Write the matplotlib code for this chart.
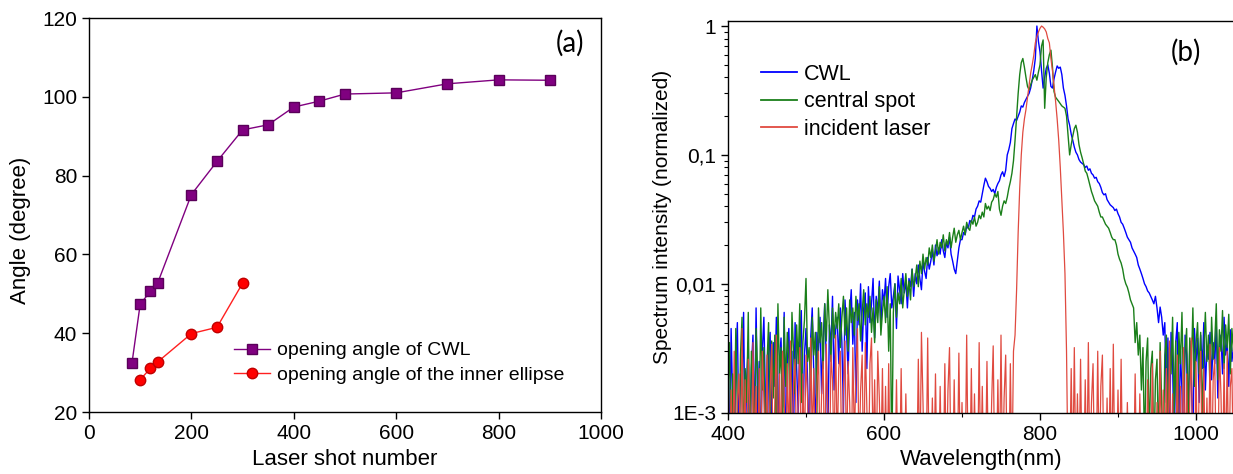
import numpy as np
import matplotlib
matplotlib.use('Agg')
import matplotlib.pyplot as plt
from matplotlib.ticker import FixedLocator, FixedFormatter, LogLocator, NullFormatter, MultipleLocator

plt.rcParams['font.family'] = ['Liberation Sans', 'DejaVu Sans']

# panel (a): opening angle vs number of laser shots
shots_cwl = [84, 100, 120, 134, 200, 250, 300, 350, 400, 450, 500, 600, 700, 800, 900]
angle_cwl = [32.5, 47.4, 50.6, 52.7, 75.2, 83.6, 91.6, 92.9, 97.4, 98.9, 100.7, 101.0, 103.3, 104.3, 104.2]
shots_inner = [100, 120, 134, 200, 250, 300]
angle_inner = [28.2, 31.1, 32.7, 39.9, 41.5, 52.7]

# panel (b): spectra sampled every 2 nm from 400 nm, intensity in units of 1E-3
wl_start = 400
wl_step = 2
cwl = [
    3, 0.4, 4.5, 1.2, 0.3, 2.5, 5, 0.6, 2, 1.5,            # 400
    6, 0.5, 1.8, 3.5, 0.3, 2.2, 4, 0.7, 6.5, 1,            # 420
    2.5, 0.4, 3, 5.5, 1.3, 0.3, 2.8, 4.2, 0.6, 3.5,        # 440
    1.6, 5.5, 0.5, 2.6, 3.8, 1.1, 6, 0.4, 2.4, 4.5,        # 460
    1.5, 3, 0.6, 5, 2.2, 1, 3.6, 6.2, 0.8, 2.8,            # 480
    4.5, 1.8, 0.5, 3.8, 6.5, 2, 0.7, 4.2, 3, 5.5,          # 500
    1.4, 3.6, 7, 2.5, 0.6, 4.8, 3.2, 8, 1.5, 4.4,          # 520
    5.5, 2.4, 6.5, 3.5, 1, 7.5, 4.2, 2, 5.8, 9,            # 540
    3.4, 6, 1.2, 7.5, 4.8, 10, 3, 6.5, 8.5, 2.2,           # 560
    9.5, 5, 7, 11, 3.8, 8, 6, 10.5, 4.5, 9,                # 580
    7, 11, 5.5, 9.5, 12, 6.5, 8, 10, 4.5, 11.5,            # 600
    9, 7, 12, 8.5, 10.5, 6.5, 11, 9.5, 13, 8,              # 620
    12, 10, 14, 11, 9, 15, 12.5, 11, 16, 13,               # 640
    15, 18, 14, 20, 16.5, 19, 17, 22, 18, 16,              # 660
    21, 19, 23, 17, 15, 13, 12, 15, 19, 22,                # 680
    22, 25, 24, 28, 27, 31, 30, 34, 33, 38,                # 700
    40, 44, 43, 50, 58, 66, 62, 57, 55, 52,                # 720
    54, 50, 56, 60, 63, 70, 74, 68, 76, 100,               # 740
    110, 125, 160, 175, 190, 185, 200, 215, 240, 235,      # 760
    255, 270, 285, 300, 330, 380, 450, 560, 1000, 760,     # 780
    630, 450, 330, 400, 470, 500, 430, 340, 330, 390,      # 800
    440, 490, 470, 480, 420, 330, 290, 240, 190, 170,      # 820
    145, 130, 115, 105, 100, 92, 88, 86, 84, 80,           # 840
    82, 76, 78, 72, 70, 66, 67, 62, 60, 56,                # 860
    51, 49, 50, 45, 43, 41, 40, 39, 37, 38,                # 880
    35, 33, 30, 29, 27, 25, 23, 22, 21, 19,                # 900
    18, 17, 16, 14, 13, 12, 11, 10, 9.5, 8.8,              # 920
    8.5, 8, 7.5, 7, 8, 6.5, 5, 6.6, 5.5, 4,                # 940
    5, 1.2, 3.8, 0.5, 4.2, 2.5, 0.4, 3.5, 5, 0.6,          # 960
    3, 1.5, 0.4, 4, 2.8, 0.5, 3.6, 1.8, 0.6, 4.5,          # 980
    2.5, 3.8, 1.2, 4, 2.2, 5, 1.5, 3.2, 2.6, 4.2,          # 1000
    1.8, 3.5, 2.4, 4.8, 1.3, 3, 4, 2, 5.5, 2.8,            # 1020
    3.6, 1.6, 4.4, 2.5, 3.2, 4,                            # 1040
]
spot = [
    1.5, 3.5, 0.4, 2, 0.6, 4.5, 1, 0.3, 2.8, 5.5,          # 400
    0.5, 2.2, 1.2, 6, 0.4, 3, 1.8, 0.5, 4.5, 2,            # 420
    0.7, 6.5, 1.5, 3.2, 0.4, 2.4, 5, 0.8, 3.6, 1.3,        # 440
    4, 0.5, 7, 2, 3.2, 0.6, 5.5, 1.6, 4.2, 2.6,            # 460
    0.8, 6, 3, 1.4, 4.8, 2.4, 7, 1.2, 3.5, 5.2,            # 480
    11, 2.5, 3.2, 1.5, 5.5, 2.8, 4.2, 1, 6.5, 3.5,         # 500
    5, 2.2, 7, 3.6, 9, 4.5, 2.5, 6.5, 3.8, 6,              # 520
    4.5, 7, 3.2, 5.5, 8, 4, 6.5, 3, 7.5, 5,                # 540
    6.5, 4, 8, 5.2, 7, 3.6, 6, 9, 4.8, 7,                  # 560
    5.5, 8, 4.2, 6.5, 3.5, 7.5, 5, 9.5, 4, 6,              # 580
    8, 5, 9.5, 3, 7, 0.4, 6, 10, 5.5, 8.5,                 # 600
    7, 11, 6.5, 9, 12, 8, 10.5, 7.5, 13, 9.5,              # 620
    11, 14, 9.5, 15, 12, 17, 13, 16, 14, 19,               # 640
    16, 20, 15, 18, 22, 17, 21, 19, 24, 18,                # 660
    22, 20, 25, 19, 23, 27, 21, 24, 26, 22,                # 680
    25, 28, 24, 30, 27, 26, 31, 29, 33, 28,                # 700
    30, 34, 32, 36, 33, 42, 38, 40, 37, 43,                # 720
    45, 50, 47, 52, 38, 34, 40, 44, 42, 47,                # 740
    55, 62, 72, 90, 130, 200, 300, 420, 520, 560,          # 760
    480, 400, 340, 320, 350, 380, 400, 420, 380, 440,      # 780
    500, 700, 780, 230, 400, 520, 600, 650, 480, 310,      # 800
    280, 270, 260, 250, 240, 235, 230, 200, 140, 100,      # 820
    120, 140, 160, 170, 150, 120, 105, 95, 85, 75,         # 840
    72, 65, 58, 52, 48, 44, 42, 40, 36, 33,                # 860
    33, 31, 29, 28, 27, 25, 23, 22, 22, 20,                # 880
    17, 15.5, 14.5, 13, 11, 10, 9.4, 8.5, 7.5, 7,          # 900
    6.5, 3.5, 5, 2.8, 4, 1.5, 3.2, 0.5, 2.5, 3.8,          # 920
    0.6, 2.2, 3, 0.4, 1.8, 2.6, 0.5, 3.5, 1.2, 0.4,        # 940
    2.8, 4, 0.7, 3.2, 2, 5.5, 1, 3.6, 0.5, 4.2,            # 960
    2.4, 6, 1.4, 3, 4.5, 0.8, 3.8, 2.2, 6.5, 1.6,          # 980
    3.4, 5, 2, 4.2, 0.9, 3, 6, 2.5, 4, 1.5,                # 1000
    5.5, 2.6, 3.5, 7, 1.8, 4.4, 3, 6.2, 2.2, 4.8,          # 1020
    3.2, 5.8, 2, 4.5, 3, 5,                                # 1040
]
laser = [
    2.5, 0.3, 1.5, 0.4, 3, 0.3, 1.2, 2, 0.3, 4.5,          # 400
    0.4, 1.8, 0.3, 2.6, 1.1, 0.3, 3.5, 0.5, 1.6, 0.3,      # 420
    2.2, 0.3, 3, 1.3, 0.4, 2.8, 0.3, 1.5, 3.4, 0.3,        # 440
    1.2, 4, 0.3, 2, 0.5, 3, 1.4, 0.3, 2.4, 0.6,            # 460
    3.6, 0.3, 1.7, 2.6, 0.4, 1.2, 3.2, 0.3, 2, 0.5,        # 480
    2.8, 1.3, 0.3, 3.8, 0.6, 2.2, 0.3, 1.6, 3, 0.4,        # 500
    1.4, 2.5, 0.3, 3.4, 1, 0.3, 2.8, 1.8, 0.4, 4,          # 520
    0.5, 2.2, 3, 0.3, 1.6, 3.6, 0.4, 2.5, 1.2, 0.3,        # 540
    3.2, 0.6, 2, 4.5, 0.4, 1.5, 2.8, 0.3, 3.5, 1.1,        # 560
    0.3, 2.4, 3.8, 0.5, 1.8, 0.3, 3, 1.3, 0.4, 2.2,        # 580
    0.3, 1.6, 0.3, 2.4, 0.3, 1, 0.3, 0.3, 1.8, 0.3,        # 600
    0.3, 2.2, 0.3, 0.3, 1.4, 0.3, 0.3, 0.3, 0.3, 0.3,      # 620
    0.3, 0.3, 2.6, 0.3, 4.2, 1.2, 0.3, 0.3, 3.8, 0.3,      # 640
    0.3, 1.3, 0.3, 2, 0.3, 0.3, 1.6, 0.3, 0.3, 2.4,        # 660
    0.3, 1.5, 3.2, 0.3, 0.3, 1.8, 0.3, 0.3, 2.9, 0.3,      # 680
    1.2, 0.3, 0.3, 4, 0.3, 0.3, 2.2, 0.3, 1.4, 0.3,        # 700
    0.3, 3.5, 0.3, 1.6, 0.3, 0.3, 2.5, 0.3, 0.3, 1.2,      # 720
    3.3, 0.3, 0.3, 1.8, 0.3, 4, 0.3, 1.3, 2.8, 0.3,        # 740
    0.3, 2.4, 0.3, 3, 4, 9, 25, 55, 100, 150,              # 760
    190, 225, 280, 350, 430, 500, 590, 740, 830, 900,      # 780
    960, 1000, 980, 950, 900, 800, 740, 560, 450, 340,     # 800
    260, 190, 130, 80, 45, 25, 12, 3, 0.3, 0.3,            # 820
    2.2, 0.3, 3.2, 0.3, 1.4, 0.3, 2.6, 0.3, 0.3, 1.8,      # 840
    0.3, 3.5, 0.3, 1.2, 2.4, 0.3, 0.3, 3, 0.3, 1.6,        # 860
    2.8, 0.3, 0.3, 1.3, 0.3, 2.2, 0.3, 3.4, 0.3, 0.3,      # 880
    1.5, 0.3, 2.6, 0.3, 0.3, 0.3, 1.2, 0.3, 0.3, 0.3,      # 900
    0.3, 2, 0.3, 0.3, 1.4, 0.3, 0.3, 0.3, 0.3, 1.8,        # 920
    0.3, 0.3, 2.4, 0.3, 0.3, 1.2, 0.3, 3, 0.3, 1.5,        # 940
    0.3, 2.2, 0.3, 3.6, 0.3, 1.4, 0.3, 0.3, 2.8, 0.3,      # 960
    1.6, 0.3, 3.2, 0.3, 2, 0.3, 1.2, 3.8, 0.3, 0.3,        # 980
    2.5, 0.3, 1.5, 3, 0.3, 2.2, 0.3, 1.3, 0.3, 3.4,        # 1000
    0.3, 1.8, 2.6, 0.3, 0.3, 3.2, 1.4, 0.3, 2.4, 0.3,      # 1020
    3, 0.3, 1.6, 2.2, 0.3, 2.8,                            # 1040
]

n = min(len(cwl), len(spot), len(laser))
wl = wl_start + wl_step * np.arange(n)
cwl = np.array(cwl[:n]) * 1e-3
spot = np.array(spot[:n]) * 1e-3
laser = np.array(laser[:n]) * 1e-3

fig = plt.figure(figsize=(12.33, 4.74), dpi=100)

# ---- (a) ----
ax1 = fig.add_axes([89 / 1233, 62 / 474, 512 / 1233, 394 / 474])
ax1.plot(shots_cwl, angle_cwl, color='#800080', lw=1, marker='s', ms=6.5,
         mfc='#800080', mec='#5a005a', label='opening angle of CWL')
ax1.plot(shots_inner, angle_inner, color='#ff2020', lw=1, marker='o', ms=7.5,
         mfc='#ff0000', mec='#c00000', label='opening angle of the inner ellipse')
ax1.set_xlim(0, 1000)
ax1.set_ylim(20, 120)
ax1.set_xticks(range(0, 1001, 200))
ax1.set_yticks(range(20, 121, 20))
ax1.tick_params(direction='out', length=5, width=1, labelsize=15)
for s in ax1.spines.values():
    s.set_linewidth(1)
ax1.set_xlabel('Laser shot number', fontsize=16)
ax1.set_ylabel('Angle (degree)', fontsize=16)
ax1.xaxis.set_label_coords(0.5, -0.094)
ax1.yaxis.set_label_coords(-0.113, 0.46)
ax1.legend(loc='upper left', bbox_to_anchor=(0.283, 0.178), frameon=False, fontsize=14,
           handlelength=1.85, handletextpad=0.36, labelspacing=0.35,
           borderpad=0, borderaxespad=0)
ax1.text(0.939, 0.937, '(a)', transform=ax1.transAxes, fontsize=20, family='Lato',
         ha='center', va='center')

# ---- (b) ----
ax2 = fig.add_axes([728 / 1233, 61.3 / 474, 507 / 1233, 392 / 474])
ax2.plot(wl, cwl, color='#0000ff', lw=1.0, label='CWL')
ax2.plot(wl, spot, color='#1a7f1a', lw=1.0, label='central spot')
ax2.plot(wl, laser, color='#e04a40', lw=0.9, label='incident laser')
ax2.set_yscale('log')
ax2.set_xlim(400, 1050)
ax2.set_ylim(1e-3, 1.1)
ax2.yaxis.set_major_locator(FixedLocator([1e-3, 1e-2, 1e-1, 1]))
ax2.yaxis.set_major_formatter(FixedFormatter(['1E-3', '0,01', '0,1', '1']))
ax2.yaxis.set_minor_locator(LogLocator(base=10, subs=np.arange(2, 10)))
ax2.yaxis.set_minor_formatter(NullFormatter())
ax2.set_xticks([400, 600, 800, 1000])
ax2.xaxis.set_minor_locator(MultipleLocator(100))
ax2.tick_params(which='major', direction='out', length=5, width=1, labelsize=15)
ax2.tick_params(which='minor', direction='out', length=3, width=0.8)
ax2.spines['right'].set_visible(False)
for s in ax2.spines.values():
    s.set_linewidth(1)
ax2.set_xlabel('Wavelength(nm)', fontsize=16)
ax2.set_ylabel('Spectrum intensity (normalized)', fontsize=15)
ax2.xaxis.set_label_coords(0.5, -0.093)
ax2.yaxis.set_label_coords(-0.110, 0.5)
leg = ax2.legend(loc='upper left', bbox_to_anchor=(0.065, 0.89), frameon=False, fontsize=15.5,
                 handlelength=1.67, handletextpad=0.33, labelspacing=0.3,
                 borderpad=0, borderaxespad=0)
for line in leg.get_lines():
    line.set_linewidth(1.3)
ax2.text(0.903, 0.92, '(b)', transform=ax2.transAxes, fontsize=20, family='Lato',
         ha='center', va='center')

fig.savefig('out.png', dpi=100)
